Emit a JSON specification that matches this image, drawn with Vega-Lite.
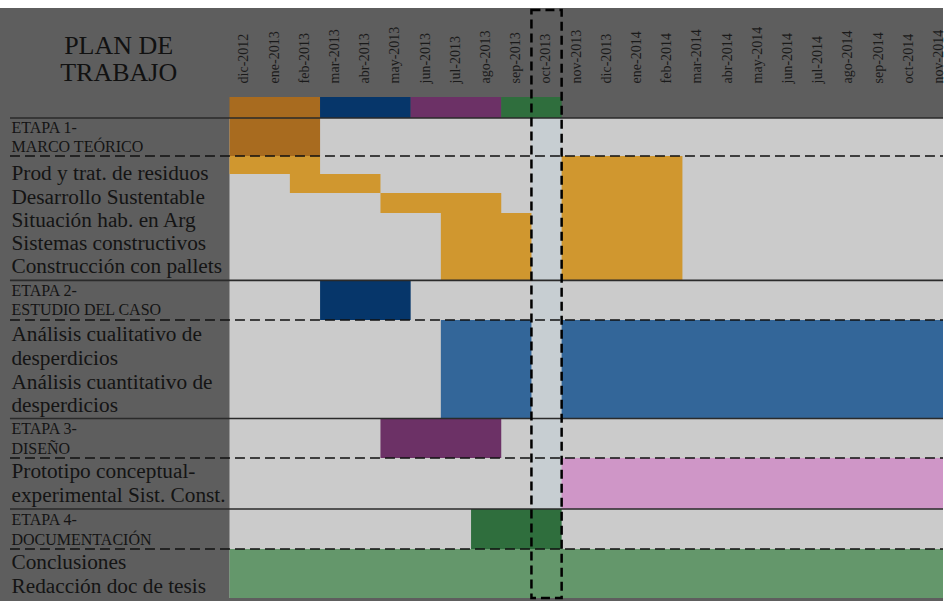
{
  "$schema": "https://vega.github.io/schema/vega-lite/v6.json",
  "width": 946,
  "height": 601,
  "autosize": {"type": "fit", "contains": "padding"},
  "padding": 0,
  "background": "white",
  "config": {"view": {"stroke": null}, "axis": {"disable": true}},
  "datasets": {
    "celdas": [
      {"tipo": "panel", "desde": -7.6, "hasta": 24, "arriba": 0.41, "abajo": 30.82},
      {"tipo": "celda", "desde": 0, "hasta": 24, "arriba": 6.05, "abajo": 30.67},
      {"tipo": "octubre", "desde": 10, "hasta": 11, "arriba": 6.05, "abajo": 30.67},
      {"tipo": "Etapa 1", "desde": 0, "hasta": 3, "arriba": 4.97, "abajo": 6.05},
      {"tipo": "Etapa 2", "desde": 3, "hasta": 6, "arriba": 4.97, "abajo": 6.05},
      {"tipo": "Etapa 3", "desde": 6, "hasta": 9, "arriba": 4.97, "abajo": 6.05},
      {"tipo": "Etapa 4", "desde": 9, "hasta": 11, "arriba": 4.97, "abajo": 6.05},
      {"tipo": "Etapa 1", "desde": 0, "hasta": 3, "arriba": 6.05, "abajo": 8.0},
      {"tipo": "Tareas 1", "desde": 0, "hasta": 3, "arriba": 8.0, "abajo": 8.92},
      {"tipo": "Tareas 1", "desde": 2, "hasta": 5, "arriba": 8.92, "abajo": 9.9},
      {"tipo": "Tareas 1", "desde": 5, "hasta": 9, "arriba": 9.9, "abajo": 10.92},
      {"tipo": "Tareas 1", "desde": 7, "hasta": 10, "arriba": 10.92, "abajo": 14.38},
      {"tipo": "Tareas 1", "desde": 11, "hasta": 15, "arriba": 8.0, "abajo": 14.38},
      {"tipo": "Etapa 2", "desde": 3, "hasta": 6, "arriba": 14.38, "abajo": 16.41},
      {"tipo": "Tareas 2", "desde": 7, "hasta": 10, "arriba": 16.41, "abajo": 21.46},
      {"tipo": "Tareas 2", "desde": 11, "hasta": 24, "arriba": 16.41, "abajo": 21.46},
      {"tipo": "Etapa 3", "desde": 5, "hasta": 9, "arriba": 21.46, "abajo": 23.49},
      {"tipo": "Tareas 3", "desde": 11, "hasta": 24, "arriba": 23.49, "abajo": 26.1},
      {"tipo": "Etapa 4", "desde": 8, "hasta": 11, "arriba": 26.1, "abajo": 28.15},
      {"tipo": "Tareas 4", "desde": 0, "hasta": 24, "arriba": 28.15, "abajo": 30.67}
    ],
    "lineas": [
      {"estilo": "continua", "desde": -7.27, "hasta": 24, "fila": 6.05},
      {"estilo": "discontinua", "desde": -7.27, "hasta": 24, "fila": 8.0},
      {"estilo": "continua", "desde": -7.27, "hasta": 24, "fila": 14.38},
      {"estilo": "discontinua", "desde": -7.27, "hasta": 24, "fila": 16.41},
      {"estilo": "continua", "desde": -7.27, "hasta": 24, "fila": 21.46},
      {"estilo": "discontinua", "desde": -7.27, "hasta": 24, "fila": 23.49},
      {"estilo": "continua", "desde": -7.27, "hasta": 24, "fila": 26.1},
      {"estilo": "discontinua", "desde": -7.27, "hasta": 24, "fila": 28.15}
    ],
    "actual": [
      {"mes": "oct-2013", "desde": 10, "hasta": 11, "arriba": 0.51, "abajo": 30.67}
    ],
    "meses": [
      {"mes": "dic-2012", "n": 0}, {"mes": "ene-2013", "n": 1}, {"mes": "feb-2013", "n": 2},
      {"mes": "mar-2013", "n": 3}, {"mes": "abr-2013", "n": 4}, {"mes": "may-2013", "n": 5},
      {"mes": "jun-2013", "n": 6}, {"mes": "jul-2013", "n": 7}, {"mes": "ago-2013", "n": 8},
      {"mes": "sep-2013", "n": 9}, {"mes": "oct-2013", "n": 10}, {"mes": "nov-2013", "n": 11},
      {"mes": "dic-2013", "n": 12}, {"mes": "ene-2014", "n": 13}, {"mes": "feb-2014", "n": 14},
      {"mes": "mar-2014", "n": 15}, {"mes": "abr-2014", "n": 16}, {"mes": "may-2014", "n": 17},
      {"mes": "jun-2014", "n": 18}, {"mes": "jul-2014", "n": 19}, {"mes": "ago-2014", "n": 20},
      {"mes": "sep-2014", "n": 21}, {"mes": "oct-2014", "n": 22}, {"mes": "nov-2014", "n": 23}
    ],
    "textos": [
      {"texto": "PLAN DE", "clase": "titulo", "fila": 2.38},
      {"texto": "TRABAJO", "clase": "titulo", "fila": 3.72},
      {"texto": "ETAPA 1-", "clase": "etapa", "fila": 6.54},
      {"texto": "MARCO TEÓRICO", "clase": "etapa", "fila": 7.54},
      {"texto": "Prod y trat. de residuos", "clase": "tarea", "fila": 8.92},
      {"texto": "Desarrollo Sustentable", "clase": "tarea", "fila": 10.15},
      {"texto": "Situación hab. en Arg", "clase": "tarea", "fila": 11.33},
      {"texto": "Sistemas constructivos", "clase": "tarea", "fila": 12.51},
      {"texto": "Construcción con pallets", "clase": "tarea", "fila": 13.69},
      {"texto": "ETAPA 2-", "clase": "etapa", "fila": 14.92},
      {"texto": "ESTUDIO DEL CASO", "clase": "etapa", "fila": 15.9},
      {"texto": "Análisis cualitativo de", "clase": "tarea", "fila": 17.18},
      {"texto": "desperdicios", "clase": "tarea", "fila": 18.41},
      {"texto": "Análisis cuantitativo de", "clase": "tarea", "fila": 19.64},
      {"texto": "desperdicios", "clase": "tarea", "fila": 20.82},
      {"texto": "ETAPA 3-", "clase": "etapa", "fila": 22.0},
      {"texto": "DISEÑO", "clase": "etapa", "fila": 23.03},
      {"texto": "Prototipo conceptual-", "clase": "tarea", "fila": 24.21},
      {"texto": "experimental Sist. Const.", "clase": "tarea", "fila": 25.44},
      {"texto": "ETAPA 4-", "clase": "etapa", "fila": 26.67},
      {"texto": "DOCUMENTACIÓN", "clase": "etapa", "fila": 27.69},
      {"texto": "Conclusiones", "clase": "tarea", "fila": 28.87},
      {"texto": "Redacción doc de tesis", "clase": "tarea", "fila": 30.1}
    ]
  },
  "layer": [
    {
      "data": {"name": "celdas"},
      "mark": {"type": "rect", "clip": true},
      "encoding": {
        "x": {"field": "desde", "type": "quantitative", "scale": {"domain": [-7.6, 23.63], "nice": false, "zero": false}, "axis": null},
        "x2": {"field": "hasta"},
        "y": {"field": "arriba", "type": "quantitative", "scale": {"domain": [0, 30.82], "nice": false, "zero": false, "reverse": true}, "axis": null},
        "y2": {"field": "abajo"},
        "color": {
          "field": "tipo", "type": "nominal", "legend": null,
          "scale": {
            "domain": ["panel", "celda", "octubre", "Etapa 1", "Etapa 2", "Etapa 3", "Etapa 4", "Tareas 1", "Tareas 2", "Tareas 3", "Tareas 4"],
            "range": ["#5e5e5e", "#cbcbcb", "#c7ced2", "#a86b1f", "#06366a", "#6c3166", "#2f6e3d", "#d0972f", "#336699", "#cf96c7", "#64976b"]
          }
        }
      }
    },
    {
      "data": {"name": "lineas"},
      "transform": [{"filter": "datum.estilo === 'continua'"}],
      "mark": {"type": "rule", "clip": true, "color": "#2a2a2a", "strokeWidth": 1.6},
      "encoding": {
        "x": {"field": "desde", "type": "quantitative", "scale": {"domain": [-7.6, 23.63], "nice": false, "zero": false}, "axis": null},
        "x2": {"field": "hasta"},
        "y": {"field": "fila", "type": "quantitative", "scale": {"domain": [0, 30.82], "nice": false, "zero": false, "reverse": true}, "axis": null}
      }
    },
    {
      "data": {"name": "lineas"},
      "transform": [{"filter": "datum.estilo === 'discontinua'"}],
      "mark": {"type": "rule", "clip": true, "color": "#111111", "strokeWidth": 1.5, "strokeDash": [10, 5]},
      "encoding": {
        "x": {"field": "desde", "type": "quantitative", "scale": {"domain": [-7.6, 23.63], "nice": false, "zero": false}, "axis": null},
        "x2": {"field": "hasta"},
        "y": {"field": "fila", "type": "quantitative", "scale": {"domain": [0, 30.82], "nice": false, "zero": false, "reverse": true}, "axis": null}
      }
    },
    {
      "data": {"name": "actual"},
      "mark": {"type": "rect", "filled": false, "stroke": "#000000", "strokeWidth": 2.5, "strokeDash": [9, 5]},
      "encoding": {
        "x": {"field": "desde", "type": "quantitative", "scale": {"domain": [-7.6, 23.63], "nice": false, "zero": false}, "axis": null},
        "x2": {"field": "hasta"},
        "y": {"field": "arriba", "type": "quantitative", "scale": {"domain": [0, 30.82], "nice": false, "zero": false, "reverse": true}, "axis": null},
        "y2": {"field": "abajo"}
      }
    },
    {
      "data": {"name": "meses"},
      "mark": {"type": "text", "font": "Liberation Serif", "fontSize": 14, "angle": 270, "align": "left", "baseline": "middle", "dy": 15, "color": "#1a1a1a"},
      "encoding": {
        "x": {"field": "n", "type": "quantitative", "scale": {"domain": [-7.6, 23.63], "nice": false, "zero": false}, "axis": null},
        "y": {"datum": 4.28, "type": "quantitative", "scale": {"domain": [0, 30.82], "nice": false, "zero": false, "reverse": true}, "axis": null},
        "text": {"field": "mes"}
      }
    },
    {
      "data": {"name": "textos"},
      "transform": [{"filter": "datum.clase === 'titulo'"}],
      "mark": {"type": "text", "font": "Liberation Serif", "fontSize": 26, "align": "center", "baseline": "middle", "color": "#111111"},
      "encoding": {
        "x": {"datum": -3.67, "type": "quantitative", "scale": {"domain": [-7.6, 23.63], "nice": false, "zero": false}, "axis": null},
        "y": {"field": "fila", "type": "quantitative", "scale": {"domain": [0, 30.82], "nice": false, "zero": false, "reverse": true}, "axis": null},
        "text": {"field": "texto"}
      }
    },
    {
      "data": {"name": "textos"},
      "transform": [{"filter": "datum.clase === 'etapa'"}],
      "mark": {"type": "text", "font": "Liberation Serif", "fontSize": 16, "align": "left", "baseline": "middle", "color": "#141414"},
      "encoding": {
        "x": {"datum": -7.22, "type": "quantitative", "scale": {"domain": [-7.6, 23.63], "nice": false, "zero": false}, "axis": null},
        "y": {"field": "fila", "type": "quantitative", "scale": {"domain": [0, 30.82], "nice": false, "zero": false, "reverse": true}, "axis": null},
        "text": {"field": "texto"}
      }
    },
    {
      "data": {"name": "textos"},
      "transform": [{"filter": "datum.clase === 'tarea'"}],
      "mark": {"type": "text", "font": "Liberation Serif", "fontSize": 21.3, "align": "left", "baseline": "middle", "color": "#141414"},
      "encoding": {
        "x": {"datum": -7.22, "type": "quantitative", "scale": {"domain": [-7.6, 23.63], "nice": false, "zero": false}, "axis": null},
        "y": {"field": "fila", "type": "quantitative", "scale": {"domain": [0, 30.82], "nice": false, "zero": false, "reverse": true}, "axis": null},
        "text": {"field": "texto"}
      }
    }
  ]
}
